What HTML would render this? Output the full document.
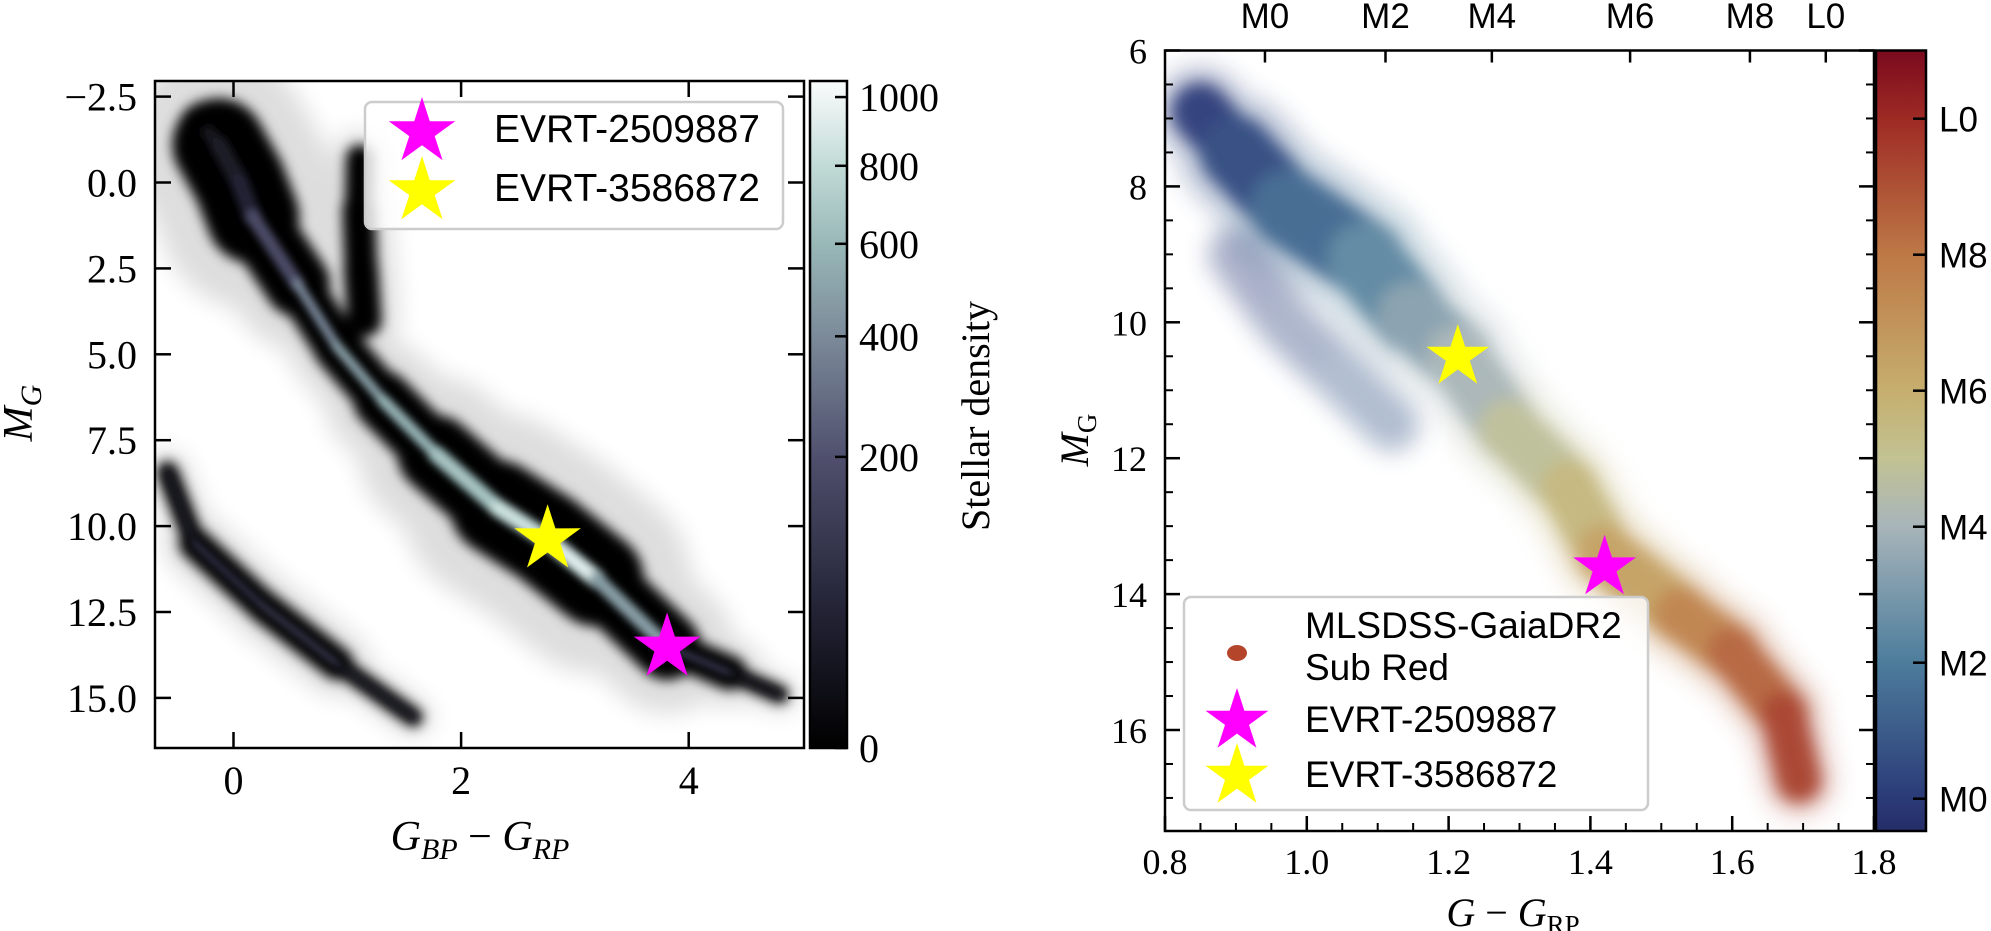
<!DOCTYPE html>
<html><head><meta charset="utf-8">
<style>
html,body{margin:0;padding:0;background:#fff;}
svg{display:block;}
.serif{font-family:"Liberation Serif",serif;}
.sans{font-family:"Liberation Sans",sans-serif;}
</style></head>
<body>
<svg id="fig" width="1991" height="931" viewBox="0 0 1991 931" xmlns="http://www.w3.org/2000/svg">
<defs>
  <filter id="blurHalo" filterUnits="userSpaceOnUse" x="0" y="0" width="1991" height="931"><feGaussianBlur stdDeviation="12"/></filter>
  <filter id="blurDark" filterUnits="userSpaceOnUse" x="0" y="0" width="1991" height="931"><feGaussianBlur stdDeviation="6"/></filter>
  <filter id="blurRidge" filterUnits="userSpaceOnUse" x="0" y="0" width="1991" height="931"><feGaussianBlur stdDeviation="4"/></filter>
  <filter id="blurScat" filterUnits="userSpaceOnUse" x="0" y="0" width="1991" height="931"><feGaussianBlur stdDeviation="8"/></filter>
  <filter id="blurScatHalo" filterUnits="userSpaceOnUse" x="0" y="0" width="1991" height="931"><feGaussianBlur stdDeviation="12"/></filter>
  <clipPath id="clipL"><rect x="155" y="81" width="649" height="667"/></clipPath>
  <clipPath id="clipR"><rect x="1165" y="50.5" width="709" height="780.5"/></clipPath>
  <linearGradient id="gradBone" x1="0" y1="1" x2="0" y2="0">
    <stop offset="0" stop-color="#000000"/>
    <stop offset="0.2" stop-color="#222234"/>
    <stop offset="0.43" stop-color="#4e4e6c"/>
    <stop offset="0.61" stop-color="#7a8898"/>
    <stop offset="0.75" stop-color="#97b6b6"/>
    <stop offset="0.87" stop-color="#c0dad6"/>
    <stop offset="1" stop-color="#fafcfc"/>
  </linearGradient>
  <linearGradient id="gradSpec" x1="0" y1="1" x2="0" y2="0">
    <stop offset="0" stop-color="#262d68"/>
    <stop offset="0.043" stop-color="#2b3b78"/>
    <stop offset="0.217" stop-color="#4d7d9c"/>
    <stop offset="0.391" stop-color="#a8b5ba"/>
    <stop offset="0.478" stop-color="#c2c292"/>
    <stop offset="0.565" stop-color="#c6ae6e"/>
    <stop offset="0.739" stop-color="#bd7846"/>
    <stop offset="0.913" stop-color="#9e2a24"/>
    <stop offset="1" stop-color="#7a0a1e"/>
  </linearGradient>
</defs>
<g id="leftPlot"></g>
<g id="rightPlot"></g>
</svg>
<script>
// ---------- Left panel data (Gaia CMD density loci) ----------
const msColor   = [-0.22,-0.13,0.05,0.17,0.56,0.91,1.31,1.78,2.32,2.75,3.19,3.81,4.36,4.80];
const msMag     = [-1.46,-1.10,-0.03,1.00,2.95,4.78,6.33,7.90,9.46,10.37,11.54,13.50,14.27,14.90];
const msSpread  = [1.3,2.4,3.0,2.4,1.4,1.3,1.5,1.9,2.6,2.9,2.6,1.3,0.7,0.35];
const msDensity = [10,20,30,60,300,450,500,550,650,850,800,150,40,10];
const gbColor   = [1.15,1.12,1.10,1.11];
const gbMag     = [4.0,2.5,0.8,-0.7];
const gbSpread  = [1.0,1.0,0.9,0.7];
const wdColor   = [-0.58,-0.34,0.25,0.91,1.58];
const wdMag     = [8.43,10.5,12.3,14.0,15.56];
const wdSpread  = [0.45,0.8,1.05,0.85,0.25];
const wdDensity = [20,60,110,90,10];
const starNames = ["EVRT-2509887","EVRT-3586872"];
const starColorsL = [3.81,2.76];
const starMagsL   = [13.53,10.38];
const xTicksL = [0,2,4];
const yTicksL = [-2.5,0.0,2.5,5.0,7.5,10.0,12.5,15.0];
const yTickLabelsL = ["\u22122.5","0.0","2.5","5.0","7.5","10.0","12.5","15.0"];
const cbTicksL = [0,200,400,600,800,1000];
// ---------- Right panel data (MLSDSS-GaiaDR2 subdwarfs) ----------
const rsColor = [0.85,0.90,0.974,1.082,1.147,1.213,1.284,1.37,1.42,1.528,1.60,1.672,1.694];
const rsMag   = [6.9,7.49,8.32,9.07,9.90,10.51,11.56,12.45,13.40,14.30,14.85,15.76,16.74];
const rsType  = [0.0,0.2,0.8,2.0,2.8,3.8,4.3,5.3,5.8,7.2,8.0,9.0,9.7];
const rsSpreadMag = [0.7,1.0,1.15,1.15,1.05,0.95,0.9,0.85,0.85,0.85,0.75,0.7,0.6];
const rsSparseColor = [0.90,0.97,1.05,1.12];
const rsSparseMag   = [9.0,10.0,10.8,11.5];
const rsSparseType  = [0.1,0.4,1.0,2.0];
const starColorsR = [1.42,1.213];
const starMagsR   = [13.61,10.51];
const xTicksR = [0.8,1.0,1.2,1.4,1.6,1.8];
const yTicksR = [6,8,10,12,14,16];
const topTickVals = [0.941,1.111,1.261,1.456,1.625,1.732];
const topTickLabels = ["M0","M2","M4","M6","M8","L0"];
const cbTicksR = [0,2,4,6,8,10];
const cbTickLabelsR = ["M0","M2","M4","M6","M8","L0"];

const NS="http://www.w3.org/2000/svg";
function mk(tag, attrs, parent){const e=document.createElementNS(NS,tag);for(const k in attrs)e.setAttribute(k,attrs[k]);if(parent)parent.appendChild(e);return e;}
function hex2rgb(h){return [parseInt(h.slice(1,3),16),parseInt(h.slice(3,5),16),parseInt(h.slice(5,7),16)];}
function cmap(stops,t){t=Math.max(0,Math.min(1,t));for(let i=1;i<stops.length;i++){if(t<=stops[i][0]){const a=stops[i-1],b=stops[i];const f=(t-a[0])/(b[0]-a[0]||1);const ca=hex2rgb(a[1]),cb=hex2rgb(b[1]);return "rgb("+ca.map((v,j)=>Math.round(v+(cb[j]-v)*f)).join(",")+")";}}return stops[stops.length-1][1];}
const boneStops=[[0,"#000000"],[0.2,"#222234"],[0.43,"#4e4e6c"],[0.61,"#7a8898"],[0.75,"#97b6b6"],[0.87,"#c0dad6"],[1,"#fafcfc"]];
const specStops=[[0,"#262d68"],[0.043,"#2b3b78"],[0.217,"#4d7d9c"],[0.391,"#a8b5ba"],[0.478,"#c2c292"],[0.565,"#c6ae6e"],[0.739,"#bd7846"],[0.913,"#9e2a24"],[1,"#7a0a1e"]];
function starPath(cx,cy,R){let d="";for(let i=0;i<10;i++){const r=i%2?R*0.381:R;const a=-Math.PI/2+i*Math.PI/5;d+=(i?"L":"M")+(cx+r*Math.cos(a)).toFixed(1)+","+(cy+r*Math.sin(a)).toFixed(1);}return d+"Z";}

// ================= LEFT PANEL =================
const L=document.getElementById('leftPlot');
const lx=v=>233.5+v*113.8, ly=v=>182.5+v*34.36;
const LX0=155,LX1=804,LY0=81,LY1=748;
const gL=mk('g',{'clip-path':'url(#clipL)'},L);


const haloL=mk('g',{filter:'url(#blurHalo)',opacity:'0.13'},gL);
const darkL=mk('g',{filter:'url(#blurDark)'},gL);
const ridgeL=mk('g',{filter:'url(#blurRidge)'},gL);
function drawLocus(cs,ms,sp,dens,name){
  const g1=mk('g',{},haloL), g2=mk('g',{},darkL), g3=mk('g',{},ridgeL);
  
  
  for(let i=0;i<cs.length-1;i++){
    const x1=lx(cs[i]),y1=ly(ms[i]),x2=lx(cs[i+1]),y2=ly(ms[i+1]);
    const w=(sp[i]+sp[i+1])/2*34.36;
    const a={x1:x1,y1:y1,x2:x2,y2:y2,'stroke-linecap':'round'};
    mk('line',Object.assign({stroke:'#000','stroke-width':w*2.0},a),g1);
    mk('line',Object.assign({stroke:'#000','stroke-width':w},a),g2);
    if(dens){
      const d=(dens[i]+dens[i+1])/2;
      mk('line',Object.assign({stroke:cmap(boneStops,Math.sqrt(d/1050)),'stroke-width':Math.max(4,Math.min(18,w*0.22))},a),g3);
      if(d>500) mk('line',Object.assign({stroke:cmap(boneStops,Math.sqrt(Math.min(1000,d*1.15)/1050)),'stroke-width':Math.max(3,w*0.08)},a),g3);
    }
  }
}
drawLocus(msColor,msMag,msSpread,msDensity,'main-sequence-density');
drawLocus(gbColor,gbMag,gbSpread,null,'giant-branch-density');
drawLocus(wdColor,wdMag,wdSpread,wdDensity,'white-dwarf-density');
for(let i=0;i<starNames.length;i++){
  const s=mk('path',{d:starPath(lx(starColorsL[i]),ly(starMagsL[i]),35),fill:i==0?'#ff00ff':'#ffff00'},gL);
  
  
}
const frL=mk('rect',{x:LX0,y:LY0,width:LX1-LX0,height:LY1-LY0,fill:'none',stroke:'#000','stroke-width':2.5},L);


xTicksL.forEach(v=>{
  const x=lx(v);
  mk('line',{x1:x,y1:LY1,x2:x,y2:LY1-16,stroke:'#000','stroke-width':2.5},L);
  mk('line',{x1:x,y1:LY0,x2:x,y2:LY0+16,stroke:'#000','stroke-width':2.5},L);
  const t=mk('text',{x:x,y:794,'text-anchor':'middle','font-size':40,class:'serif'},L);
  t.textContent=String(v);
  
  
});
yTicksL.forEach((v,i)=>{
  const y=ly(v);
  mk('line',{x1:LX0,y1:y,x2:LX0+16,y2:y,stroke:'#000','stroke-width':2.5},L);
  mk('line',{x1:LX1,y1:y,x2:LX1-16,y2:y,stroke:'#000','stroke-width':2.5},L);
  const t=mk('text',{x:137,y:y+14,'text-anchor':'end','font-size':40,class:'serif'},L);
  t.textContent=yTickLabelsL[i];
  
  
});
let t=mk('text',{x:480,y:850,'text-anchor':'middle','font-size':42,class:'serif','font-style':'italic'},L);


t.innerHTML='G<tspan font-size="30" dy="9">BP</tspan><tspan dy="-9" font-style="normal"> \u2212 </tspan>G<tspan font-size="30" dy="9">RP</tspan>';
t=mk('text',{x:0,y:0,'text-anchor':'middle','font-size':42,class:'serif','font-style':'italic',transform:'translate(32,413) rotate(-90)'},L);


t.innerHTML='M<tspan font-size="30" dy="9">G</tspan>';
const lgL=mk('g',{},L);


mk('rect',{x:365,y:102,width:418,height:127,rx:7,fill:'rgba(255,255,255,0.82)',stroke:'#cccccc','stroke-width':2.5},lgL);
[128,187].forEach((y,i)=>{
  const e=mk('g',{},lgL);
  
  
  mk('path',{d:starPath(422,y+4,35),fill:i==0?'#ff00ff':'#ffff00'},e);
  const tx=mk('text',{x:494,y:y+14,'font-size':39,class:'sans'},e);
  tx.textContent=starNames[i];
});
const cbL=mk('g',{},L);


mk('rect',{x:810,y:81,width:37,height:667,fill:'url(#gradBone)',stroke:'#000','stroke-width':2.5},cbL);
cbTicksL.forEach(v=>{
  const y=748-667*Math.sqrt(v/1050);
  mk('line',{x1:847,y1:y,x2:835,y2:y,stroke:'#000','stroke-width':2.5},cbL);
  const tx=mk('text',{x:859,y:y+14,'font-size':40,class:'serif'},cbL);
  tx.textContent=String(v);
  
  
});
t=mk('text',{x:0,y:0,'text-anchor':'middle','font-size':40,class:'serif',transform:'translate(989,416) rotate(-90)'},cbL);
t.textContent='Stellar density';



// ================= RIGHT PANEL =================
const R=document.getElementById('rightPlot');
const rx=v=>1165+(v-0.8)*709, ry=v=>50.5+(v-6)*67.95;
const RX0=1165,RX1=1874,RY0=50.5,RY1=831;
const cbr=m=>798.7-m*68.0;
const gR=mk('g',{'clip-path':'url(#clipR)'},R);


const rSparse=mk('g',{filter:'url(#blurScatHalo)',opacity:'0.4'},gR);
const rHalo=mk('g',{filter:'url(#blurScatHalo)',opacity:'0.3'},gR);
const rCore=mk('g',{filter:'url(#blurScat)',opacity:'0.95'},gR);
for(let i=0;i<rsSparseColor.length-1;i++){
  const c=cmap(specStops,(rsSparseType[i]+0.49)/11.49);
  mk('line',{x1:rx(rsSparseColor[i]),y1:ry(rsSparseMag[i]),x2:rx(rsSparseColor[i+1]),y2:ry(rsSparseMag[i+1]),stroke:c,'stroke-width':55,'stroke-linecap':'round'},rSparse);
}
for(let i=0;i<rsColor.length-1;i++){
  const tt=((rsType[i]+rsType[i+1])/2+0.49)/11.49;
  const c=cmap(specStops,tt);
  const w=(rsSpreadMag[i]+rsSpreadMag[i+1])/2*67.95;
  const a={x1:rx(rsColor[i]),y1:ry(rsMag[i]),x2:rx(rsColor[i+1]),y2:ry(rsMag[i+1]),stroke:c,'stroke-linecap':'round'};
  mk('line',Object.assign({'stroke-width':w*1.6},a),rHalo);
  mk('line',Object.assign({'stroke-width':w},a),rCore);
}
for(let i=0;i<starNames.length;i++){
  const s=mk('path',{d:starPath(rx(starColorsR[i]),ry(starMagsR[i]),33),fill:i==0?'#ff00ff':'#ffff00'},gR);
  
  
}
const frR=mk('rect',{x:RX0,y:RY0,width:RX1-RX0,height:RY1-RY0,fill:'none',stroke:'#000','stroke-width':2.5},R);


for(let v=0.85;v<1.8;v+=0.05){
  const x=rx(v);
  mk('line',{x1:x,y1:RY1,x2:x,y2:RY1-8,stroke:'#000','stroke-width':2},R);
}
xTicksR.forEach(v=>{
  const x=rx(v);
  mk('line',{x1:x,y1:RY1,x2:x,y2:RY1-15,stroke:'#000','stroke-width':2.5},R);
  const tx=mk('text',{x:x,y:874,'text-anchor':'middle','font-size':36,class:'serif'},R);
  tx.textContent=v.toFixed(1);
  
  
});
for(let v=6.5;v<17.5;v+=0.5){
  const y=ry(v);
  mk('line',{x1:RX0,y1:y,x2:RX0+8,y2:y,stroke:'#000','stroke-width':2},R);
  mk('line',{x1:RX1,y1:y,x2:RX1-8,y2:y,stroke:'#000','stroke-width':2},R);
}
yTicksR.forEach(v=>{
  const y=ry(v);
  mk('line',{x1:RX0,y1:y,x2:RX0+15,y2:y,stroke:'#000','stroke-width':2.5},R);
  mk('line',{x1:RX1,y1:y,x2:RX1-15,y2:y,stroke:'#000','stroke-width':2.5},R);
  const tx=mk('text',{x:1147,y:y+13,'text-anchor':'end','font-size':36,class:'serif'},R);
  tx.textContent=String(v);
  
  
});
topTickVals.forEach((v,i)=>{
  const x=rx(v);
  mk('line',{x1:x,y1:RY0,x2:x,y2:RY0+12,stroke:'#000','stroke-width':2.5},R);
  const tx=mk('text',{x:x,y:28,'text-anchor':'middle','font-size':35,class:'sans'},R);
  tx.textContent=topTickLabels[i];
  
  
});
t=mk('text',{x:1513,y:926,'text-anchor':'middle','font-size':40,class:'serif','font-style':'italic'},R);


t.innerHTML='G<tspan font-style="normal"> \u2212 </tspan>G<tspan font-size="27" dy="8" font-style="normal">RP</tspan>';
t=mk('text',{x:0,y:0,'text-anchor':'middle','font-size':40,class:'serif','font-style':'italic',transform:'translate(1088,440) rotate(-90)'},R);


t.innerHTML='M<tspan font-size="27" dy="8" font-style="normal">G</tspan>';
const lgR=mk('g',{},R);


mk('rect',{x:1184,y:597,width:464,height:213,rx:7,fill:'rgba(255,255,255,0.85)',stroke:'#cccccc','stroke-width':2.5},lgR);
let e=mk('g',{},lgR);


mk('ellipse',{cx:1237,cy:653,rx:10,ry:8,fill:'#b5452a'},e);
let tx=mk('text',{x:1305,y:638,'font-size':37,class:'sans'},e); tx.textContent='MLSDSS-GaiaDR2';
tx=mk('text',{x:1305,y:680,'font-size':37,class:'sans'},e); tx.textContent='Sub Red';
[718,773].forEach((y,i)=>{
  const en=mk('g',{},lgR);
  
  
  mk('path',{d:starPath(1237,y+3,33),fill:i==0?'#ff00ff':'#ffff00'},en);
  const tt=mk('text',{x:1305,y:y+14,'font-size':37,class:'sans'},en);
  tt.textContent=starNames[i];
});
const cbR=mk('g',{},R);


mk('rect',{x:1876,y:50.5,width:50,height:780.5,fill:'url(#gradSpec)',stroke:'#000','stroke-width':2.5},cbR);
cbTicksR.forEach((m,i)=>{
  const y=cbr(m);
  mk('line',{x1:1926,y1:y,x2:1913,y2:y,stroke:'#000','stroke-width':2.5},cbR);
  const tt=mk('text',{x:1939,y:y+13,'font-size':35,class:'sans'},cbR);
  tt.textContent=cbTickLabelsR[i];
  
  
});
</script>
</body></html>
